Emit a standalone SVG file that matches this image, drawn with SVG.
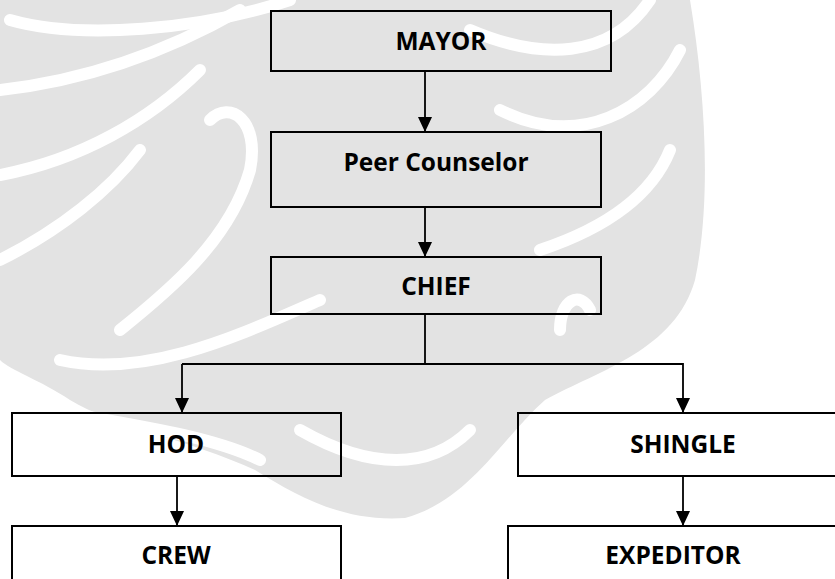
<svg xmlns="http://www.w3.org/2000/svg" width="835" height="579" viewBox="0 0 835 579">
<defs>
<style>
.box{fill:none;stroke:#000;stroke-width:2}
.lbl{font-family:"Open Sans","Liberation Sans",sans-serif;font-weight:700;font-size:24.5px;fill:#000;text-anchor:middle}
.con{fill:none;stroke:#000;stroke-width:1.8}
.wm{fill:#e3e3e3}
.wl{fill:none;stroke:#fff;stroke-width:12;stroke-linecap:round}
</style>
<marker id="arr" markerUnits="userSpaceOnUse" markerWidth="16" markerHeight="16" viewBox="0 0 16 16" refX="15" refY="8" orient="auto">
<path d="M0,1 L15,8 L0,15 Z" fill="#000"/>
</marker>
</defs>
<rect width="835" height="579" fill="#fff"/>
<g id="watermark">
<path class="wm" d="M0,0 L690,0 C705,90 712,200 695,280 C675,350 600,370 545,400 C500,440 470,500 405,518 C345,522 300,498 255,470 C190,440 110,425 70,400 C40,380 10,370 0,360 Z"/>
<path class="wl" d="M10,20 C80,40 200,30 290,0"/>
<path class="wl" d="M0,90 C90,80 170,50 240,10"/>
<path class="wl" d="M0,175 C80,160 150,120 200,70"/>
<path class="wl" d="M0,260 C60,230 110,190 140,150"/>
<path class="wl" d="M120,330 C170,290 230,240 250,170 C260,120 230,100 210,120"/>
<path class="wl" d="M60,360 C150,380 250,330 320,300"/>
<path class="wl" d="M0,400 C90,420 200,430 260,460"/>
<path class="wl" d="M470,30 C540,60 610,60 650,0"/>
<path class="wl" d="M500,110 C580,150 650,110 680,50"/>
<path class="wl" d="M540,250 C600,230 650,200 670,150"/>
<path class="wl" d="M300,430 C370,470 430,470 470,430"/>
<path class="wl" d="M560,330 C560,300 580,290 590,310"/>
</g>
<g id="connectors">
<line class="con" x1="425" y1="71" x2="425" y2="132" marker-end="url(#arr)"/>
<line class="con" x1="425" y1="207" x2="425" y2="257" marker-end="url(#arr)"/>
<polyline class="con" points="425,314 425,364"/>
<polyline class="con" points="182,364 683,364 683,413" marker-end="url(#arr)"/>
<line class="con" x1="182" y1="364" x2="182" y2="413" marker-end="url(#arr)"/>
<line class="con" x1="177" y1="476" x2="177" y2="526" marker-end="url(#arr)"/>
<line class="con" x1="683" y1="476" x2="683" y2="526" marker-end="url(#arr)"/>
</g>
<g id="mayor"><rect class="box" x="271" y="11" width="340" height="60"/><text class="lbl" x="441" y="50">MAYOR</text></g>
<g id="peer-counselor"><rect class="box" x="271" y="132" width="330" height="75"/><text class="lbl" x="436" y="171">Peer Counselor</text></g>
<g id="chief"><rect class="box" x="271" y="257" width="330" height="57"/><text class="lbl" x="436" y="295">CHIEF</text></g>
<g id="hod"><rect class="box" x="12" y="413" width="329" height="63"/><text class="lbl" x="176" y="453">HOD</text></g>
<g id="shingle"><rect class="box" x="518" y="413" width="330" height="63"/><text class="lbl" x="683" y="453">SHINGLE</text></g>
<g id="crew"><rect class="box" x="12" y="526" width="329" height="70"/><text class="lbl" x="176" y="564">CREW</text></g>
<g id="expeditor"><rect class="box" x="508" y="526" width="340" height="70"/><text class="lbl" x="673" y="564">EXPEDITOR</text></g>
</svg>
